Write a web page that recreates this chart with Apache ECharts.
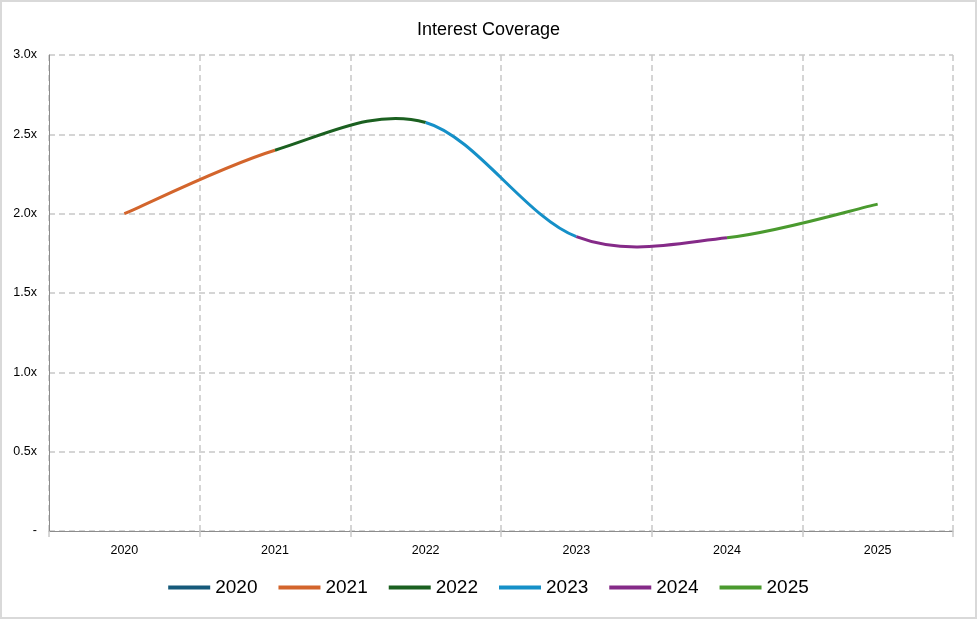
<!DOCTYPE html>
<html>
<head>
<meta charset="utf-8">
<script src="https://cdn.jsdelivr.net/npm/echarts@6/dist/echarts.min.js"></script>
<style>
  html, body { margin: 0; padding: 0; background: #fff; }
  #chart { width: 977px; height: 619px; box-sizing: border-box; border: 2px solid #d9d9d9; }
</style>
</head>
<body>
<div id="chart"></div>
<script>
const years = ['2020', '2021', '2022', '2023', '2024', '2025'];
const coverage = [2.0, 2.4, 2.575, 1.855, 1.848, 2.06];
const yearColors = ['#165a7a', '#d3652c', '#1b6020', '#1590c8', '#852a88', '#4a9a2e'];

const chart = echarts.init(document.getElementById('chart'), null, { renderer: 'canvas' });

// Excel-style smoothed line: each segment i-1 -> i is a cubic bezier
// (Catmull-Rom control points), coloured with year i's colour.
function renderSegment(params, api) {
    const i = params.dataIndex;
    if (i === 0) return null;
    const n = coverage.length;
    const pt = (j) => {
        const k = Math.max(0, Math.min(n - 1, j));
        return api.coord([k, coverage[k]]);
    };
    const p0 = pt(i - 2), p1 = pt(i - 1), p2 = pt(i), p3 = pt(i + 1);
    return {
        type: 'bezierCurve',
        shape: {
            x1: p1[0], y1: p1[1],
            cpx1: p1[0] + (p2[0] - p0[0]) / 6, cpy1: p1[1] + (p2[1] - p0[1]) / 6,
            cpx2: p2[0] - (p3[0] - p1[0]) / 6, cpy2: p2[1] - (p3[1] - p1[1]) / 6,
            x2: p2[0], y2: p2[1],
        },
        style: { stroke: yearColors[i], lineWidth: 3, fill: null, lineCap: 'butt' },
    };
}

const legendSeries = years.map((y, i) => ({
    name: y,
    type: 'line',
    data: [],
    symbol: 'none',
    color: yearColors[i],
    lineStyle: { width: 3, color: yearColors[i] },
}));

const option = {
    backgroundColor: '#fff',
    animation: false,
    title: {
        text: 'Interest Coverage',
        left: 'center',
        top: 19,
        padding: 0,
        textStyle: { fontFamily: 'Liberation Sans', fontSize: 18, fontWeight: 'normal', color: '#000' },
    },
    grid: { left: 47, right: 22, top: 53, bottom: 86 },
    legend: {
        data: years,
        top: 571,
        left: 'center',
        itemWidth: 42,
        itemHeight: 4,
        itemGap: 21,
        icon: 'rect',
        textStyle: { fontFamily: 'Liberation Sans', fontSize: 19, color: '#000' },
    },
    xAxis: {
        type: 'category',
        data: years,
        boundaryGap: true,
        axisLine: { lineStyle: { color: '#8c8c8c', width: 1 } },
        axisTick: { show: true, length: 9, lineStyle: { color: '#c8c8c8', type: [6, 4], width: 1.5 } },
        axisLabel: { margin: 13, fontFamily: 'Liberation Sans', fontSize: 12.5, color: '#000' },
        splitLine: { show: true, lineStyle: { color: '#c8c8c8', type: [6, 4], width: 1.5 } },
    },
    yAxis: {
        type: 'value',
        min: 0,
        max: 3,
        interval: 0.5,
        axisLine: { show: true, lineStyle: { color: '#8c8c8c', width: 1 } },
        axisTick: { show: false },
        axisLabel: {
            margin: 12,
            fontFamily: 'Liberation Sans',
            fontSize: 12.5,
            color: '#000',
            formatter: (v) => (v === 0 ? '-' : v.toFixed(1) + 'x'),
        },
        splitLine: { show: true, lineStyle: { color: '#c8c8c8', type: [6, 4], width: 1.5 } },
    },
    series: [
        {
            name: 'Interest Coverage',
            type: 'custom',
            renderItem: renderSegment,
            data: coverage.map((v, i) => [i, v]),
            encode: { x: 0, y: 1 },
            z: 5,
        },
        ...legendSeries,
    ],
};

chart.setOption(option);
</script>
</body>
</html>
